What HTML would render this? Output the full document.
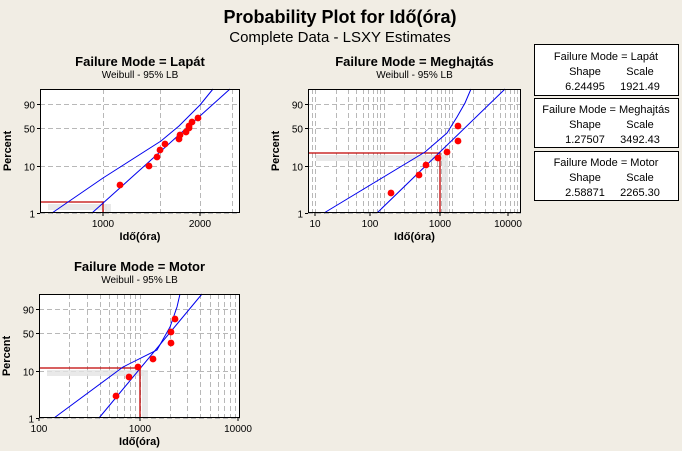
<!DOCTYPE html>
<html><head><meta charset="utf-8"><style>
body{margin:0;background:#f1ede4;}
svg{display:block;font-family:"Liberation Sans",sans-serif;}
</style></head><body>
<svg id="s" width="682" height="451" xmlns="http://www.w3.org/2000/svg">
<rect width="682" height="451" fill="#f1ede4"/>
<text x="340" y="23" text-anchor="middle" font-size="18" font-weight="bold">Probability Plot for Idő(óra)</text>
<text x="340" y="42" text-anchor="middle" font-size="15">Complete Data - LSXY Estimates</text>
<g font-size="11" text-anchor="middle">
<rect x="534.5" y="44.5" width="144" height="51" fill="#fff" stroke="#000"/>
<text x="606" y="60">Failure Mode = Lapát</text><text x="585" y="75">Shape</text><text x="640" y="75">Scale</text>
<text x="585" y="90">6.24495</text><text x="640" y="90">1921.49</text>
<rect x="534.5" y="98.5" width="144" height="49" fill="#fff" stroke="#000"/>
<text x="606" y="113">Failure Mode = Meghajtás</text><text x="585" y="128">Shape</text><text x="640" y="128">Scale</text>
<text x="585" y="143">1.27507</text><text x="640" y="143">3492.43</text>
<rect x="534.5" y="151.5" width="144" height="49" fill="#fff" stroke="#000"/>
<text x="606" y="166">Failure Mode = Motor</text><text x="585" y="181">Shape</text><text x="640" y="181">Scale</text>
<text x="585" y="196">2.58871</text><text x="640" y="196">2265.30</text>
</g>
<g id="g"></g>
</svg>
<script>
var g=document.getElementById('g'),h='';
function P(o){
 var L=o.L,R=o.R,T=o.T,B=o.B;
 h+='<rect x="'+L+'" y="'+T+'" width="'+(R-L)+'" height="'+(B-T)+'" fill="#fff"/>';
 var cx=(L+R)/2;
 h+='<text x="'+cx+'" y="'+(T-23)+'" text-anchor="middle" font-size="13" font-weight="bold">'+o.title+'</text>';
 h+='<text x="'+cx+'" y="'+(T-11)+'" text-anchor="middle" font-size="10">Weibull  - 95% LB</text>';
 o.vx.forEach(function(x){h+='<line x1="'+x+'" x2="'+x+'" y1="'+T+'" y2="'+B+'" stroke="#b8b8b8" stroke-dasharray="5,3"/>';});
 o.yt.forEach(function(t){h+='<line x1="'+L+'" x2="'+R+'" y1="'+t[0]+'" y2="'+t[0]+'" stroke="#b8b8b8" stroke-dasharray="5,3"/>';
  h+='<line x1="'+(L-3)+'" x2="'+L+'" y1="'+t[0]+'" y2="'+t[0]+'" stroke="#000"/>';
  h+='<text x="'+(L-5)+'" y="'+(t[0]+4)+'" text-anchor="end" font-size="10">'+t[1]+'</text>';});
 o.xt.forEach(function(t){h+='<line x1="'+t[0]+'" x2="'+t[0]+'" y1="'+B+'" y2="'+(B+3)+'" stroke="#000"/>';
  h+='<text x="'+t[0]+'" y="'+(B+14)+'" text-anchor="middle" font-size="10">'+t[1]+'</text>';});
 h+='<rect x="'+(L+8)+'" y="'+(o.ry+2)+'" width="'+(o.rx-L-4)+'" height="6" fill="#e4e4e4" opacity="0.8"/>';
 h+='<rect x="'+(o.rx+2)+'" y="'+(o.ry+2)+'" width="6" height="'+(B-o.ry-2)+'" fill="#e4e4e4" opacity="0.8"/>';
 h+='<polyline points="'+L+','+o.ry+' '+o.rx+','+o.ry+' '+o.rx+','+B+'" fill="none" stroke="#c00000" stroke-width="1.3"/>';
 h+='<polyline points="'+o.fit+'" fill="none" stroke="#0000ee" stroke-width="1"/>';
 h+='<polyline points="'+o.up+'" fill="none" stroke="#0000ee" stroke-width="1"/>';
 o.pts.forEach(function(p){h+='<circle cx="'+p[0]+'" cy="'+p[1]+'" r="3.4" fill="#f00"/>';});
 h+='<rect x="'+L+'.5" y="'+T+'.5" width="'+(R-L-1)+'" height="'+(B-T-1)+'" fill="none" stroke="#000"/>';
 h+='<text x="'+cx+'" y="'+(B+27)+'" text-anchor="middle" font-size="11" font-weight="bold">Idő(óra)</text>';
 h+='<text transform="translate('+(L-29)+','+((T+B)/2)+') rotate(-90)" text-anchor="middle" font-size="11" font-weight="bold">Percent</text>';
}
function minors(x0,dec,L,R){var a=[];for(var d=-2;d<6;d++)for(var k=1;k<10;k++){var x=x0+(d+Math.log10(k))*dec;if(x>L+1&&x<R-1)a.push(Math.round(x)+.5);}return a;}
function yt(B){var f=function(p){return Math.log(-Math.log(1-p/100));};return [[90,'90'],[50,'50'],[10,'10'],[1,'1']].map(function(t){return [Math.round(B-(f(t[0])-f(1))*20)+.5,t[1]];});}
P({L:40,R:240,T:89,B:213,title:'Failure Mode = Lapát',vx:[103.5,160.5,200.5,232.5],yt:yt(213),xt:[[103,'1000'],[200,'2000']],
 rx:103,ry:202,fit:'92,213 230,89',up:'52,213 103,178 161,141 179,126 200,105 213,89',
 pts:[[120,185],[149,166],[157,157],[160,150],[165,144],[179,139],[180,135],[186,132],[189,128],[189,126],[192,122],[198,118]]});
P({L:308,R:521,T:89,B:213,title:'Failure Mode = Meghajtás',vx:minors(315,68.5,308,521),yt:yt(213),xt:[[315,'10'],[370,'100'],[440,'1000'],[508,'10000']],
 rx:440,ry:153,fit:'377,213 505,89',up:'324,213 425,152 447,133 457,117 465,103 471,89',
 pts:[[391,193],[419,175],[426,165],[438,158],[447,152],[458,141],[458,126]]});
P({L:39,R:240,T:294,B:418,title:'Failure Mode = Motor',vx:minors(39,100.5,39,240),yt:yt(418),xt:[[39,'100'],[140,'1000'],[238,'10000']],
 rx:140,ry:368,fit:'99,418 202,294',up:'54,418 123,367 157,350 170,327 177,307 180,294',
 pts:[[116,396],[129,377],[138,367],[153,359],[171,343],[171,332],[175,319]]});
g.innerHTML=h;
</script>
</body></html>
